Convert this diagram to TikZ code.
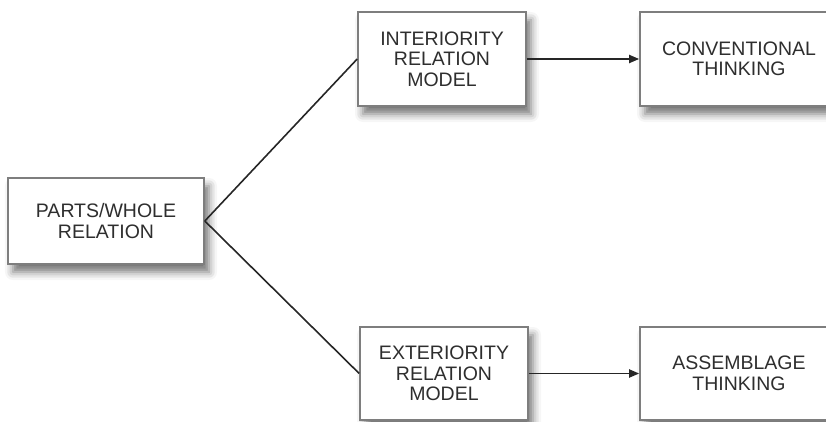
\documentclass[tikz,border=0pt]{standalone}
\usepackage{fontspec}
\setmainfont{Liberation Sans}
\usetikzlibrary{shadows.blur,arrows.meta}
\definecolor{boxline}{HTML}{7E7E7E}
\definecolor{txt}{HTML}{2E2E2E}
\tikzset{
  box/.style={draw=boxline, line width=1.6pt, fill=white, rectangle, align=center,
    text=txt, font=\fontsize{19.5}{20.5}\selectfont, inner sep=0pt,
    blur shadow={shadow xshift=5pt, shadow yshift=-8pt, shadow blur radius=8pt, shadow opacity=55}},
  link/.style={draw=black!85, line width=1.6pt},
  arr/.style={link, line width=1.8pt, -{Triangle[length=10pt,width=8pt]}}
}
\begin{document}
\begin{tikzpicture}[x=1pt,y=-1pt]
\useasboundingbox (0,0) rectangle (826,422);
\clip (0,0) rectangle (826,422);
\node[box, minimum width=196pt, minimum height=86pt] (pw) at (106,221) {PARTS/WHOLE\\RELATION};
\node[box, minimum width=168pt, minimum height=94pt] (im) at (442,59) {INTERIORITY\\RELATION\\MODEL};
\node[box, minimum width=168pt, minimum height=93pt] (em) at (444,373.5) {EXTERIORITY\\RELATION\\MODEL};
\node[box, minimum width=198pt, minimum height=94pt] (ct) at (739,59) {CONVENTIONAL\\THINKING};
\node[box, minimum width=198pt, minimum height=93pt] (at) at (739,373.5) {ASSEMBLAGE\\THINKING};
\draw[link] (pw.east) -- (im.west);
\draw[link] (pw.east) -- (em.west);
\draw[arr] (im.east) -- (ct.west);
\draw[arr] (em.east) -- (at.west);
\end{tikzpicture}
\end{document}
